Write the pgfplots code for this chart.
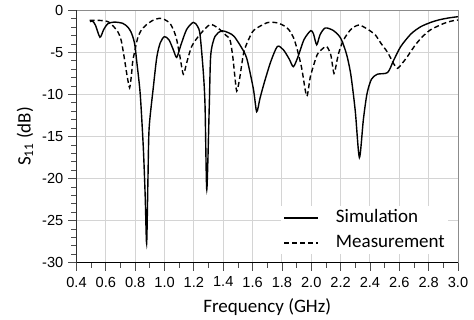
\documentclass[border=0pt]{standalone}
\usepackage{fontspec}
\setmainfont{Carlito}
\newfontfamily\tickfont{Liberation Sans}
\usepackage{pgfplots}
\pgfplotsset{compat=1.18}
\begin{document}
\begin{tikzpicture}
\begin{axis}[
  at={(0pt,0pt)}, anchor=south west,
  width=381.5pt, height=252.4pt, scale only axis,
  xmin=0.4, xmax=3.0, ymin=-30, ymax=0,
  xtick={0.4,0.6,...,3.01}, ytick={-30,-25,...,0},
  minor x tick num=1, minor y tick num=4,
  xtick pos=lower, ytick pos=left,
  tick align=outside,
  major tick length=8pt, minor tick length=5pt,
  tick style={black!70, line width=0.8pt},
  grid=major,
  major grid style={draw=black!17, line width=1pt},
  axis line style={draw=black!45, line width=0.8pt},
  /pgf/number format/assume math mode=true,
  ticklabel style={font=\tickfont\fontsize{14.6}{16}\selectfont, inner sep=0pt},
  xticklabel style={/pgf/number format/fixed, /pgf/number format/fixed zerofill, /pgf/number format/precision=1, anchor=north, yshift=-6pt},
  yticklabel style={anchor=east, xshift=-5pt},
  every axis x label/.style={at={(axis description cs:0.5,0)}, yshift=-44pt, anchor=center},
  every axis y label/.style={at={(axis description cs:0,0.5)}, xshift=-51.5pt, rotate=90, anchor=center},
  label style={font=\fontsize{19}{22}\selectfont},
  xlabel={Frequency (GHz)},
  ylabel={S\textsubscript{11} (dB)},
  legend style={at={(rel axis cs:0.9895,0.0436)}, anchor=south east, xshift=-6pt, yshift=-3pt, draw=none, fill=white,
    font=\fontsize{19}{22}\selectfont, inner xsep=3pt, inner ysep=3pt, row sep=8pt, column sep=17pt,
    nodes={inner sep=0pt, text height=13pt, text depth=4pt}},
  legend cell align=left,
  legend image code/.code={\draw[#1] (0pt,0pt) -- (34pt,0pt);},
]
\addplot[black, line width=1.4pt, smooth, tension=0.45] coordinates {
(0.492,-1.35) (0.51,-1.3) (0.53,-1.8) (0.56,-3.2) (0.585,-2.3) (0.613,-1.6) (0.657,-1.4)
(0.715,-1.55) (0.75,-2.0) (0.772,-2.6) (0.79,-3.5) (0.80,-4.4) (0.81,-6.0) (0.834,-9.9)
(0.855,-16.2) (0.868,-22) (0.878,-27.7) (0.887,-20) (0.895,-14) (0.924,-9.1) (0.947,-5.6)
(0.97,-3.9) (0.999,-3.13) (1.03,-3.5) (1.06,-4.7) (1.083,-5.6) (1.11,-4.2) (1.15,-2.3)
(1.196,-1.43) (1.225,-1.9) (1.242,-2.9) (1.264,-7.3) (1.276,-11.3) (1.288,-21.3) (1.305,-11.3)
(1.315,-5.3) (1.344,-3.1) (1.39,-2.45) (1.44,-2.7) (1.474,-3.1) (1.52,-4.3) (1.56,-5.7)
(1.605,-9.3) (1.628,-12.05) (1.65,-10.5) (1.678,-8.7) (1.724,-6.1) (1.769,-4.3) (1.81,-4.7)
(1.85,-5.8) (1.878,-6.7) (1.91,-5.5) (1.95,-3.5) (1.996,-2.42) (2.015,-2.8) (2.037,-4.1)
(2.06,-2.9) (2.095,-2.1) (2.15,-2.4) (2.20,-3.3) (2.24,-5.2) (2.27,-7.7) (2.30,-12)
(2.328,-17.5) (2.355,-13) (2.38,-9.9) (2.41,-8.2) (2.45,-7.6) (2.52,-7.4) (2.56,-6)
(2.61,-4.3) (2.68,-2.8) (2.746,-1.95) (2.82,-1.4) (2.88,-1.1) (2.94,-0.9) (3.0,-0.76)
};
\addlegendentry{Simulation}
\addplot[black, line width=1.4pt, dash pattern=on 5pt off 3pt, smooth, tension=0.45] coordinates {
(0.49,-1.2) (0.555,-1.2) (0.62,-1.4) (0.68,-2.5) (0.705,-3.6) (0.726,-5.7) (0.745,-7.8)
(0.762,-9.2) (0.775,-7.6) (0.783,-6.1) (0.80,-4.6) (0.817,-3.3) (0.84,-2.4) (0.874,-1.75)
(0.92,-1.2) (0.965,-0.95) (1.0,-1.1) (1.037,-1.55) (1.065,-2.5) (1.083,-3.5) (1.105,-5.5)
(1.128,-7.6) (1.15,-6.3) (1.185,-4.3) (1.24,-2.9) (1.31,-1.7) (1.367,-2.15) (1.42,-3.0)
(1.446,-3.5) (1.465,-5.5) (1.48,-8) (1.492,-9.6) (1.51,-8.3) (1.54,-5.0) (1.575,-3.4)
(1.61,-2.35) (1.70,-1.47) (1.77,-1.5) (1.82,-1.9) (1.849,-2.35) (1.88,-3.3) (1.905,-4.7)
(1.935,-6.9) (1.969,-10.2) (1.995,-7.8) (2.04,-5.3) (2.075,-4.6) (2.105,-4.3) (2.133,-5.3)
(2.155,-7.5) (2.175,-6.0) (2.19,-4.9) (2.215,-3.7) (2.246,-2.8) (2.28,-2.1) (2.326,-1.75)
(2.37,-2.1) (2.406,-2.5) (2.44,-3.0) (2.474,-3.9) (2.52,-5.0) (2.56,-6.3) (2.587,-6.9)
(2.62,-6.3) (2.655,-5.5) (2.71,-4.1) (2.76,-3.1) (2.81,-2.35) (2.86,-1.9) (2.905,-1.55)
(2.95,-1.3) (3.0,-1.15)
};
\addlegendentry{Measurement}
\draw[black, line width=1pt] (rel axis cs:0,1) -- (rel axis cs:0,0) -- (rel axis cs:1,0);
\end{axis}
\pgfresetboundingbox
\path (-76.5pt,-57.3pt) rectangle (397.5pt,262.7pt);
\end{tikzpicture}
\end{document}
